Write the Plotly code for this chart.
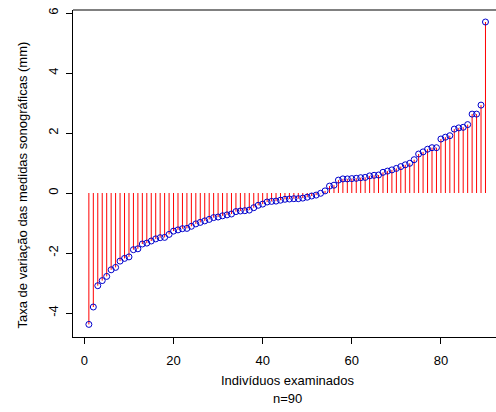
import plotly.graph_objects as go

# Data: sorted change values for 90 individuals
individuos = list(range(1, 91))
taxa_variacao = [
    -4.38, -3.80, -3.09, -2.92, -2.78, -2.56, -2.48, -2.27, -2.18, -2.13,
    -1.89, -1.86, -1.70, -1.67, -1.60, -1.53, -1.49, -1.48, -1.38, -1.27,
    -1.23, -1.19, -1.18, -1.11, -1.03, -0.98, -0.93, -0.88, -0.82, -0.80,
    -0.76, -0.73, -0.70, -0.62, -0.60, -0.59, -0.57, -0.49, -0.41, -0.37,
    -0.30, -0.28, -0.27, -0.24, -0.21, -0.20, -0.19, -0.19, -0.17, -0.14,
    -0.10, -0.07, -0.01, 0.07, 0.23, 0.26, 0.43, 0.47, 0.47, 0.48,
    0.49, 0.51, 0.52, 0.57, 0.59, 0.60, 0.69, 0.73, 0.77, 0.82,
    0.88, 0.94, 0.99, 1.11, 1.30, 1.37, 1.46, 1.51, 1.51, 1.80,
    1.86, 1.91, 2.13, 2.17, 2.19, 2.28, 2.63, 2.63, 2.93, 5.70,
]
x_ticks = [0, 20, 40, 60, 80]
y_ticks = [-4, -2, 0, 2, 4, 6]
x_title = "Indivíduos examinados"
x_subtitle = "n=90"
y_title = "Taxa de variação das medidas sonográficas (mm)"

# build stem segments from the data
seg_x, seg_y = [], []
for xi, yi in zip(individuos, taxa_variacao):
    seg_x += [xi, xi, None]
    seg_y += [0, yi, None]

FONT = "Liberation Sans, Arial, sans-serif"

fig = go.Figure()
fig.add_trace(go.Scatter(
    x=seg_x, y=seg_y, mode="lines",
    line=dict(color="#ff0000", width=1),
    hoverinfo="skip", showlegend=False,
))
fig.add_trace(go.Scatter(
    x=individuos, y=taxa_variacao, mode="markers",
    marker=dict(symbol="circle-open", size=6, color="#0000cc",
                line=dict(width=1, color="#0000cc")),
    showlegend=False,
))

fig.update_layout(
    width=496, height=412,
    margin=dict(l=73, r=0, t=10, b=75),
    paper_bgcolor="white", plot_bgcolor="white",
    font=dict(family=FONT, size=13, color="black"),
    showlegend=False,
)
fig.update_xaxes(
    range=[-2.56, 92.36], tickvals=x_ticks, ticktext=[str(v) for v in x_ticks],
    ticks="outside", ticklen=6, tickcolor="black", tickwidth=1,
    showline=True, linecolor="black", linewidth=1,
    showgrid=False, zeroline=False, ticklabelstandoff=5,
    tickfont=dict(size=13, family=FONT),
)
fig.update_yaxes(
    range=[-4.8, 6.1], tickvals=y_ticks, ticktext=[str(v) for v in y_ticks],
    ticks="outside", ticklen=6, tickcolor="black", tickwidth=1,
    showline=True, linecolor="black", linewidth=1,
    showgrid=False, zeroline=False, tickangle=-90, ticklabelstandoff=3,
    tickfont=dict(size=13, family=FONT),
)
# top border of the box
fig.add_shape(type="line", xref="paper", yref="paper", x0=0, x1=1, y0=1, y1=1,
              line=dict(color="#808080", width=2))

XC = (287 - 73) / 423
fig.add_annotation(text=x_title, xref="paper", yref="paper", x=XC, y=0,
                   yshift=-43, showarrow=False, xanchor="center", yanchor="middle",
                   font=dict(size=13, family=FONT))
fig.add_annotation(text=x_subtitle, xref="paper", yref="paper", x=XC, y=0,
                   yshift=-61, showarrow=False, xanchor="center", yanchor="middle",
                   font=dict(size=13, family=FONT))
fig.add_annotation(text=y_title, xref="paper", yref="paper", x=0, y=0.5,
                   xshift=-51, yshift=-12, showarrow=False, textangle=-90,
                   xanchor="center", yanchor="middle",
                   font=dict(size=13, family=FONT))

fig.write_html("out.html")
